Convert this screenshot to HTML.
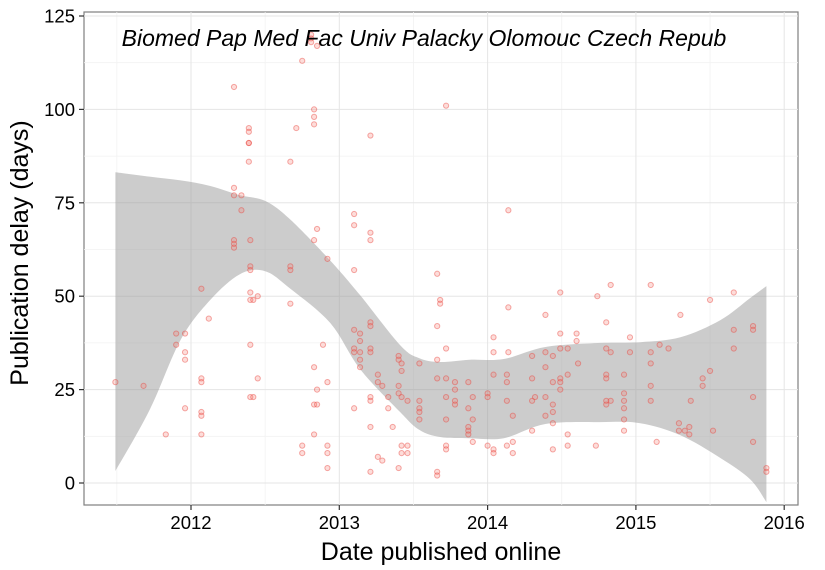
<!DOCTYPE html>
<html><head><meta charset="utf-8"><style>
html,body{margin:0;padding:0;background:#fff;}
svg{display:block;font-family:"Liberation Sans",sans-serif;}
</style></head><body>
<svg id="chart" width="825" height="570" viewBox="0 0 825 570">
<rect x="84" y="12" width="714" height="493" fill="#fff" stroke="#7f7f7f" stroke-width="1.2"/>
<g id="grid"></g>
<g id="band"></g>
<g id="points"></g>
<g id="axes"></g>
<text x="424" y="46" text-anchor="middle" font-size="23" font-style="italic" fill="#000">Biomed Pap Med Fac Univ Palacky Olomouc Czech Repub</text>
<text x="441" y="560" text-anchor="middle" font-size="25" fill="#000">Date published online</text>
<text transform="translate(28,253) rotate(-90)" text-anchor="middle" font-size="25" fill="#000">Publication delay (days)</text>
</svg>
<script>
const xTicks = [2012, 2013, 2014, 2015, 2016];
const yTicks = [0, 25, 50, 75, 100, 125];
const bandYears = [2011.49,2011.72,2011.93,2012.13,2012.33,2012.5,2012.67,2012.94,2013.14,2013.41,2013.54,2013.68,2013.88,2014.11,2014.39,2014.76,2015.03,2015.3,2015.57,2015.77,2015.88];
const bandLower = [3.2,19.5,38.3,49,55.9,56.7,52,42.8,30.5,19,14.2,12.3,12,12,15.8,16.3,16,12.8,6.7,1,-5.1];
const bandUpper = [83.2,82,81,79.5,77,75.5,70.5,59.5,50.3,36.9,33.4,32.4,33,33.2,36.4,37.5,37.7,39,43.6,49.5,52.7];
const ptYears = [2011.49,2011.68,2011.83,2011.9,2011.9,2011.96,2011.96,2011.96,2011.96,2012.07,2012.07,2012.07,2012.07,2012.07,2012.07,2012.12,2012.29,2012.29,2012.29,2012.29,2012.29,2012.29,2012.34,2012.34,2012.39,2012.39,2012.39,2012.39,2012.39,2012.4,2012.4,2012.4,2012.4,2012.4,2012.4,2012.4,2012.42,2012.42,2012.45,2012.45,2012.67,2012.67,2012.67,2012.67,2012.71,2012.75,2012.75,2012.75,2012.81,2012.81,2012.81,2012.83,2012.83,2012.83,2012.83,2012.83,2012.83,2012.83,2012.85,2012.85,2012.85,2012.85,2012.89,2012.92,2012.92,2012.92,2012.92,2012.92,2013.1,2013.1,2013.1,2013.1,2013.1,2013.1,2013.1,2013.14,2013.14,2013.14,2013.14,2013.14,2013.21,2013.21,2013.21,2013.21,2013.21,2013.21,2013.21,2013.21,2013.21,2013.21,2013.21,2013.26,2013.26,2013.26,2013.29,2013.29,2013.33,2013.33,2013.36,2013.4,2013.4,2013.4,2013.4,2013.4,2013.42,2013.42,2013.42,2013.42,2013.42,2013.46,2013.46,2013.46,2013.54,2013.54,2013.54,2013.54,2013.54,2013.66,2013.66,2013.66,2013.66,2013.66,2013.66,2013.68,2013.68,2013.72,2013.72,2013.72,2013.72,2013.72,2013.72,2013.72,2013.78,2013.78,2013.78,2013.78,2013.87,2013.87,2013.87,2013.87,2013.87,2013.9,2013.9,2013.9,2014,2014,2014,2014.04,2014.04,2014.04,2014.04,2014.04,2014.13,2014.13,2014.13,2014.13,2014.14,2014.14,2014.14,2014.17,2014.17,2014.17,2014.3,2014.3,2014.3,2014.3,2014.32,2014.39,2014.39,2014.39,2014.39,2014.39,2014.44,2014.44,2014.44,2014.44,2014.44,2014.44,2014.49,2014.49,2014.49,2014.49,2014.49,2014.49,2014.54,2014.54,2014.54,2014.54,2014.6,2014.6,2014.61,2014.73,2014.74,2014.8,2014.8,2014.8,2014.8,2014.8,2014.8,2014.83,2014.83,2014.83,2014.92,2014.92,2014.92,2014.92,2014.92,2014.92,2014.96,2014.96,2015.1,2015.1,2015.1,2015.1,2015.1,2015.14,2015.16,2015.22,2015.3,2015.29,2015.29,2015.33,2015.36,2015.36,2015.37,2015.45,2015.45,2015.5,2015.5,2015.52,2015.66,2015.66,2015.66,2015.79,2015.79,2015.79,2015.79,2015.88,2015.88];
const ptDays = [27,26,13,40,37,40,35,33,20,52,28,27,19,18,13,44,106,79,77,65,64,63,77,73,95,94,91,91,86,65,58,57,51,49,37,23,49,23,50,28,86,58,57,48,95,113,10,8,120,119,118,100,98,96,65,31,21,13,117,68,25,21,37,60,27,10,8,4,72,69,57,41,36,35,20,40,38,35,33,31,93,67,65,43,42,36,35,23,22,15,3,29,27,7,26,6,23,20,15,34,33,26,24,4,32,30,23,10,8,22,10,8,32,22,20,19,17,56,42,33,28,3,2,49,48,101,36,28,23,17,10,9,27,25,22,21,27,20,15,14,13,23,17,11,24,23,10,39,35,29,9,8,29,27,22,10,73,47,35,18,11,8,34,28,22,14,23,45,35,31,23,18,34,27,21,19,16,9,51,40,36,28,27,25,36,29,13,10,40,38,32,10,50,43,36,29,28,22,21,53,35,22,29,24,22,20,17,14,39,35,53,35,32,26,22,11,37,36,45,16,14,14,15,13,22,28,26,30,49,14,51,41,36,42,41,23,11,4,3];

const X0=191, XS=148.3, Y0=483, YS=3.736;
const sx = y => X0 + (y-2012)*XS;
const sy = d => Y0 - d*YS;
const NS='http://www.w3.org/2000/svg';
function mk(tag, attrs, parent){const e=document.createElementNS(NS,tag);for(const k in attrs)e.setAttribute(k,attrs[k]);parent.appendChild(e);return e;}
const grid=document.getElementById('grid'), axes=document.getElementById('axes');
const minorX=[2011.5,2012.5,2013.5,2014.5,2015.5];
minorX.forEach(t=>{const l=mk('line',{x1:sx(t),x2:sx(t),y1:12,y2:505,stroke:'#f2f2f2','stroke-width':0.8},grid);

});
for(let i=0;i<yTicks.length-1;i++){const l=mk('line',{x1:84,x2:798,y1:sy(yTicks[i]+12.5),y2:sy(yTicks[i]+12.5),stroke:'#f2f2f2','stroke-width':0.8},grid);

}
xTicks.forEach(t=>{
 const l=mk('line',{x1:sx(t),x2:sx(t),y1:12,y2:505,stroke:'#e5e5e5','stroke-width':1},grid);
 
 
 const tk=mk('line',{x1:sx(t),x2:sx(t),y1:505,y2:510,stroke:'#333','stroke-width':1.2},axes);
 
 
 const tx=mk('text',{x:sx(t),y:529,'text-anchor':'middle','font-size':18.5,fill:'#000'},axes);
 tx.textContent=t;
 
 
});
yTicks.forEach(t=>{
 const l=mk('line',{x1:84,x2:798,y1:sy(t),y2:sy(t),stroke:'#e5e5e5','stroke-width':1},grid);
 
 
 const tk=mk('line',{x1:79,x2:84,y1:sy(t),y2:sy(t),stroke:'#333','stroke-width':1.2},axes);
 
 
 const tx=mk('text',{x:75,y:sy(t)+6.5,'text-anchor':'end','font-size':18.5,fill:'#000'},axes);
 tx.textContent=t;
 
 
});
// smooth band via Catmull-Rom
function curve(P, start){
 let s=start?('M'+P[0][0].toFixed(1)+','+P[0][1].toFixed(1)):('L'+P[0][0].toFixed(1)+','+P[0][1].toFixed(1));
 for(let i=0;i<P.length-1;i++){
  const p0=P[Math.max(0,i-1)],p1=P[i],p2=P[i+1],p3=P[Math.min(P.length-1,i+2)];
  const c1=[p1[0]+(p2[0]-p0[0])/6,p1[1]+(p2[1]-p0[1])/6];
  const c2=[p2[0]-(p3[0]-p1[0])/6,p2[1]-(p3[1]-p1[1])/6];
  s+='C'+c1[0].toFixed(1)+','+c1[1].toFixed(1)+' '+c2[0].toFixed(1)+','+c2[1].toFixed(1)+' '+p2[0].toFixed(1)+','+p2[1].toFixed(1);
 }
 return s;
}
const up=bandYears.map((y,i)=>[sx(y),sy(bandUpper[i])]);
const lo=bandYears.map((y,i)=>[sx(y),sy(bandLower[i])]).reverse();
const d=curve(up,true)+curve(lo,false)+'Z';
const band=mk('path',{d:d,fill:'#999','fill-opacity':0.5,stroke:'none'},document.getElementById('band'));


const pts=document.getElementById('points');
ptYears.forEach((y,i)=>{
 const c=mk('circle',{cx:sx(y),cy:sy(ptDays[i]),r:2.6,fill:'#f8766d','fill-opacity':0.25,stroke:'#e8433c','stroke-opacity':0.45,'stroke-width':1},pts);
 
 
});
</script>
</body></html>
